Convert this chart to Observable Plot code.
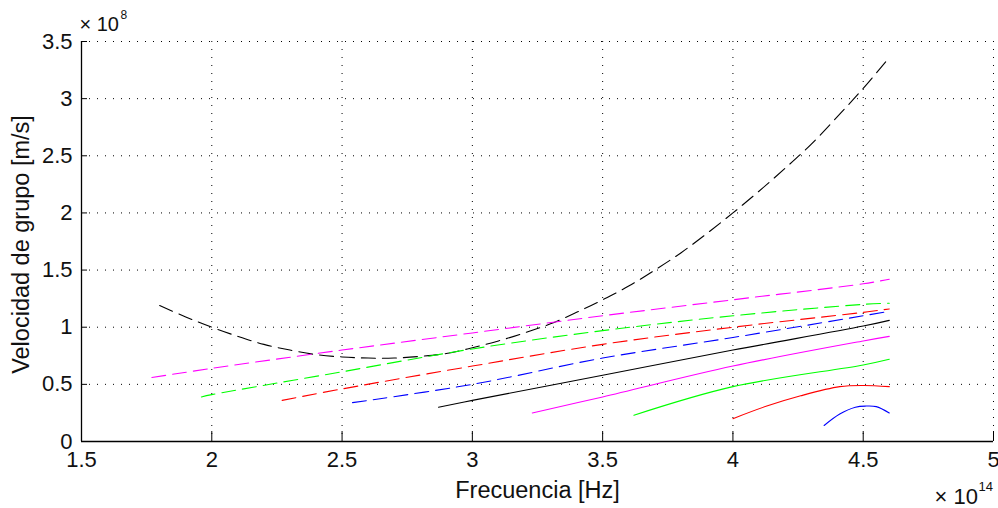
<!DOCTYPE html>
<html>
<head>
<meta charset="utf-8">
<script src="https://cdn.jsdelivr.net/npm/d3@7"></script>
<script src="https://cdn.jsdelivr.net/npm/@observablehq/plot@0.6"></script>
<style>
  html, body { margin: 0; padding: 0; background: #fff; }
</style>
</head>
<body>
<div id="chart"></div>
<script>
// Axis ticks (frequency in units of 1e14 Hz, group velocity in units of 1e8 m/s)
const xTicks = [1.5, 2, 2.5, 3, 3.5, 4, 4.5, 5];
const yTicks = [0, 0.5, 1, 1.5, 2, 2.5, 3, 3.5];
const xLabel = "Frecuencia [Hz]";
const yLabel = "Velocidad de grupo [m/s]";
const xExponent = "14";
const yExponent = "8";

// Dashed branches
const fBlackDash = [1.8, 1.9, 2.0, 2.1, 2.2, 2.3, 2.4, 2.5, 2.6, 2.7, 2.8, 2.9, 3.0, 3.1, 3.2, 3.3, 3.4, 3.5, 3.6, 3.7, 3.8, 3.9, 4.0, 4.1, 4.2, 4.3, 4.4, 4.5, 4.6];
const vBlackDash = [1.19, 1.09, 1.0, 0.92, 0.85, 0.80, 0.76, 0.74, 0.73, 0.73, 0.745, 0.77, 0.82, 0.88, 0.95, 1.03, 1.13, 1.24, 1.36, 1.5, 1.65, 1.82, 2.0, 2.19, 2.39, 2.6, 2.84, 3.09, 3.36];
const fMagentaDash = [1.77, 2.0, 2.5, 3.0, 3.5, 4.0, 4.5, 4.6];
const vMagentaDash = [0.56, 0.64, 0.80, 0.95, 1.10, 1.24, 1.38, 1.42];
const fGreenDash = [1.96, 2.0, 2.5, 3.0, 3.5, 4.0, 4.5, 4.6];
const vGreenDash = [0.39, 0.41, 0.61, 0.81, 0.97, 1.10, 1.20, 1.21];
const fRedDash = [2.27, 2.5, 3.0, 3.5, 4.0, 4.5, 4.6];
const vRedDash = [0.36, 0.46, 0.66, 0.85, 1.00, 1.13, 1.16];
const fBlueDash = [2.54, 3.0, 3.5, 4.0, 4.5, 4.6];
const vBlueDash = [0.34, 0.50, 0.73, 0.91, 1.10, 1.14];

// Solid branches
const fBlackSolid = [2.87, 3.0, 3.5, 4.0, 4.5, 4.6];
const vBlackSolid = [0.30, 0.36, 0.58, 0.80, 1.01, 1.06];
const fMagentaSolid = [3.23, 3.5, 4.0, 4.5, 4.6];
const vMagentaSolid = [0.25, 0.39, 0.66, 0.88, 0.92];
const fGreenSolid = [3.62, 4.0, 4.5, 4.6];
const vGreenSolid = [0.23, 0.48, 0.67, 0.72];
const fRedSolid = [4.0, 4.13, 4.26, 4.41, 4.5, 4.6];
const vRedSolid = [0.20, 0.31, 0.40, 0.48, 0.49, 0.48];
const fBlueSolid = [4.35, 4.41, 4.47, 4.51, 4.55, 4.6];
const vBlueSolid = [0.14, 0.24, 0.30, 0.31, 0.305, 0.25];

const series = [
  {f: fBlackDash, v: vBlackDash, color: "#000000", dashed: true},
  {f: fMagentaDash, v: vMagentaDash, color: "#ff00ff", dashed: true},
  {f: fGreenDash, v: vGreenDash, color: "#00ff00", dashed: true},
  {f: fRedDash, v: vRedDash, color: "#ff0000", dashed: true},
  {f: fBlueDash, v: vBlueDash, color: "#0000ff", dashed: true},
  {f: fBlackSolid, v: vBlackSolid, color: "#000000", dashed: false},
  {f: fMagentaSolid, v: vMagentaSolid, color: "#ff00ff", dashed: false},
  {f: fGreenSolid, v: vGreenSolid, color: "#00ff00", dashed: false},
  {f: fRedSolid, v: vRedSolid, color: "#ff0000", dashed: false},
  {f: fBlueSolid, v: vBlueSolid, color: "#0000ff", dashed: false}
];

const lineMarks = series.map(s =>
  Plot.line(s.f.map((f, i) => ({f, v: s.v[i]})), {
    x: "f", y: "v",
    stroke: s.color,
    strokeWidth: 1.1,
    strokeDasharray: s.dashed ? "14,7" : null,
    curve: "catmull-rom"
  })
);

const gridStyle = {stroke: "#000", strokeOpacity: 1, strokeWidth: 1, strokeDasharray: "1,7"};
const fmt = d => String(d);
const font = "'Liberation Sans', Arial, Helvetica, sans-serif";

const chart = Plot.plot({
  width: 998,
  height: 508,
  marginLeft: 81,
  marginRight: 5,
  marginTop: 41,
  marginBottom: 67,
  x: {domain: [1.5, 5]},
  y: {domain: [0, 3.5]},
  style: {fontFamily: font, fontSize: "22px", color: "#111", background: "#fff", overflow: "visible"},
  marks: [
    Plot.gridX(xTicks.slice(1), gridStyle),
    Plot.gridY(yTicks.slice(1), gridStyle),
    ...lineMarks,
    Plot.ruleX([xTicks[0]], {stroke: "#000", strokeWidth: 1.3}),
    Plot.ruleY([yTicks[0]], {stroke: "#000", strokeWidth: 1.3}),
    Plot.axisX(xTicks, {tickSize: -10, tickPadding: 20, tickFormat: fmt, label: null, stroke: "#000", fontSize: 22}),
    Plot.axisY(yTicks, {tickSize: -6, tickPadding: 15, tickFormat: fmt, label: null, stroke: "#000", fontSize: 22}),
    Plot.text([xLabel], {text: d => d, frameAnchor: "bottom", lineAnchor: "bottom", dy: 56, fontSize: 23.5}),
    Plot.text([yLabel], {text: d => d, frameAnchor: "left", textAnchor: "middle", lineAnchor: "bottom", rotate: -90, dx: -53, dy: 3, fontSize: 23.5}),
    Plot.text(["\u00d7 10"], {text: d => d, frameAnchor: "top-left", textAnchor: "start", lineAnchor: "bottom", dx: -2, dy: -11, fontSize: 20}),
    Plot.text([yExponent], {text: d => d, frameAnchor: "top-left", textAnchor: "start", lineAnchor: "bottom", dx: 39, dy: -23, fontSize: 12}),
    Plot.text(["\u00d7 10"], {text: d => d, frameAnchor: "bottom-right", textAnchor: "start", lineAnchor: "bottom", dx: -59, dy: 62, fontSize: 22}),
    Plot.text([xExponent], {text: d => d, frameAnchor: "bottom-right", textAnchor: "start", lineAnchor: "bottom", dx: -15, dy: 49, fontSize: 13})
  ]
});

document.getElementById("chart").appendChild(chart);
</script>
</body>
</html>
